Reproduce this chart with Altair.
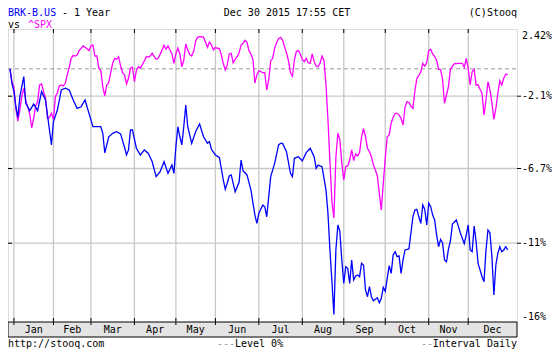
import altair as alt
import pandas as pd

# ---------------- data ----------------
# x = trading-day number since Dec 30 2014, y = % change vs first day
brk_day = [0, 1, 2, 3, 4, 5, 6, 7, 8, 10, 12, 14, 16, 18, 20, 21, 22, 24, 26, 28, 30, 32, 34, 36, 38, 40,
           42, 44, 46, 47, 48, 50, 52, 54, 56, 58, 59, 60, 61, 62, 64, 66, 68, 70, 72, 74, 76, 78, 80,
           82, 83, 84, 85, 86, 87, 88, 89, 90, 92, 94, 96, 98, 100, 101, 102, 104, 106, 108, 109, 110,
           111, 112, 114, 116, 117, 118, 120, 122, 124, 125, 126, 128, 129, 130, 132, 134, 136, 137,
           138, 140, 142, 143, 144, 146, 148, 150, 152, 154, 155, 156, 158, 160, 161, 162, 163, 164,
           165, 166, 167, 168, 169, 170, 171, 172, 173, 174, 175, 176, 177, 178, 179, 180, 181, 182,
           183, 184, 186, 187, 188, 189, 190, 191, 192, 193, 194, 195, 196, 197, 198, 199, 200, 202,
           204, 205, 206, 207, 208, 209, 210, 211, 212, 213, 214, 215, 216, 217, 218, 219, 220, 221,
           222, 223, 224, 226, 228, 230, 231, 232, 233, 234, 235, 236, 237, 238, 239, 240, 241, 242,
           243, 244, 245, 246, 247, 248, 249, 250, 251, 252]
brk_pct = [0.00, -1.11, -1.75, -2.77, -3.45, -2.13, -1.37, -0.60, -2.55, -3.02, -2.60, -3.02, -1.75,
           -2.34, -4.25, -5.20, -3.72, -2.98, -1.62, -1.49, -1.62, -2.34, -2.87, -2.77, -2.34, -3.19,
           -4.04, -4.04, -4.04, -4.46, -5.71, -4.68, -4.46, -4.36, -4.50, -5.35, -5.84, -5.52, -4.25,
           -4.25, -5.41, -5.84, -5.52, -5.73, -6.27, -7.17, -6.88, -6.27, -6.98,
           -6.48, -6.98, -5.31, -4.04, -4.68, -5.20, -4.04, -2.66, -4.04, -5.10, -4.36, -3.87, -4.68,
           -5.10, -4.99, -5.48, -5.84, -5.99, -7.36, -7.90, -7.55,
           -7.13, -7.07, -8.04, -7.49, -6.16, -6.83, -7.07, -7.94, -9.38, -9.86, -9.28, -8.80, -8.90,
           -9.48, -7.17, -6.37, -5.20, -5.10,
           -5.10, -5.63, -6.98, -7.17, -6.05, -5.95, -6.22, -5.69, -5.41, -5.95, -6.69, -6.48, -6.58,
           -7.94, -9.30, -11.46, -13.62, -15.85,
           -11.46, -9.95, -10.30, -12.14, -13.73, -12.60, -12.71, -13.73, -12.14, -13.50, -13.23,
           -13.16, -13.28, -12.37, -12.48, -14.18, -14.64, -13.96,
           -14.64, -14.91, -14.71, -15.05, -14.75, -14.00, -14.27, -13.39, -12.53, -13.05, -11.80,
           -11.58, -11.92, -11.87, -13.05, -12.14, -11.46, -11.39,
           -9.48, -9.09, -9.05, -9.48, -9.86, -8.80, -9.05, -9.95, -8.70, -8.90, -9.38, -9.66, -10.53,
           -11.24, -10.78, -10.97, -12.14, -12.26,
           -11.41, -10.86, -9.90, -9.66, -10.40, -11.03, -10.53, -9.95, -11.46, -11.58, -10.01, -10.92,
           -12.37, -12.82, -13.28, -13.62, -11.46, -10.24,
           -10.40, -11.92, -14.52, -12.48, -11.69, -11.24, -11.58, -11.46, -11.24, -11.46]

spx_pct = [0.00, -0.99, -1.42, -2.93, -3.68, -2.98, -2.08, -1.49, -2.39, -2.77,
           -3.23, -4.12, -3.51, -2.72, -2.45, -1.24, -1.16, -1.75, -2.23, -3.51,
           -3.44, -3.19, -3.57, -2.13, -1.83, -1.32, -1.24, -1.32, -1.11, -0.47,
           0.11, 0.76, 0.98, 0.93, 1.00, 1.32, 1.49, 1.66, 1.56, 1.46,
           1.32, 1.66, 1.73, 0.93, 0.93, 0.04, -0.15, -1.37, -2.08, -1.24,
           -1.06, -0.30, 0.40, 0.76, 0.69, 0.88, 0.20, -0.30, -0.47, -1.16,
           -0.73, 0.04, 0.11, -0.99, -0.15, 0.15, 0.04, 0.30, 0.57, 0.88,
           0.86, 0.93, 1.13, 0.88, 0.69, 0.76, 1.05, 1.37, 1.71, 1.42,
           1.66, 1.37, 1.08, 0.40, 1.08, 1.51, 1.08, 0.15, 0.64, 1.80,
           1.37, 1.03, 0.93, 1.27, 2.02, 2.29, 2.33, 2.33, 2.29, 1.95,
           1.56, 1.95, 1.73, 1.37, 1.56, 1.49, 1.49, 1.00, 0.40, -0.09,
           0.28, 1.08, 1.13, 0.44, 0.69, 0.88, 1.17, 1.73, 1.85, 2.07,
           1.93, 1.32, 1.08, 0.69, -1.09, -0.47, -0.15, -0.22, -0.30, -0.30,
           -1.62, -0.86, 0.59, 0.76, 1.49, 1.90, 2.19, 2.29, 2.09, 1.61,
           1.17, 0.59, -0.30, -0.55, 0.64, 1.27, 1.32, 1.08, 0.69, 0.52,
           0.76, 0.44, 0.40, 1.08, 0.52, 0.20, 0.15, 0.40, 0.93, 0.59,
           -1.24, -3.61, -6.30, -8.60, -9.55, -6.00, -4.46, -4.84, -6.37, -7.36,
           -6.58, -6.54, -6.16, -5.52, -6.20, -5.78, -5.90, -5.69, -4.68, -4.17,
           -4.68, -5.41, -5.63, -5.95, -6.48, -6.79, -7.13, -8.13, -9.09, -7.55,
           -6.05, -4.68, -4.57, -3.82, -3.44, -3.19, -3.19, -3.30, -3.51, -3.93,
           -2.81, -2.45, -2.51, -2.72, -2.87, -1.70, -0.73, -0.53, -0.22, 0.40,
           0.20, 0.44, 1.32, 1.42, 1.08, 0.88, 0.64, -0.04, -0.04, -0.80,
           -2.55, -2.01, -1.37, -0.04, 0.20, 0.37, 0.37, 0.40, 0.40, 0.40,
           0.11, 0.76, 0.04, -1.24, -0.22, -0.04, -1.24, -1.24, -1.57, -1.88,
           -3.30, -2.34, -0.99, -1.62, -2.51, -3.57, -2.87, -1.88, -0.91, -1.24,
           -0.73, -0.40, -0.47]
spx_day = list(range(len(spx_pct)))

month_names = ["Jan", "Feb", "Mar", "Apr", "May", "Jun", "Jul", "Aug", "Sep", "Oct", "Nov", "Dec"]
month_first_day = [2, 22, 41, 63, 84, 104, 126, 148, 169, 190, 212, 232]
axis_end_day = 256.7

grid_pct = [-2.1, -6.7, -11]
edge_pct = [2.42, -16]
level_pct = [0]

# ---------------- layout / style ----------------
W, H = 509, 293
FONT = "DejaVu Sans Mono"
FS = 10
BLUE, MAGENTA = "#0000ff", "#ff00ff"
GRID = "#c8c8c8"

xs = alt.Scale(domain=[-1, axis_end_day], zero=False, nice=False)
ys = alt.Scale(domain=[2.42, 0, -2.1, -6.7, -11, -16],
               range=[6.5, 39.8, 67.2, 139.5, 214.2, 287.7], zero=False, nice=False)

brk = pd.DataFrame({"day": brk_day, "pct": brk_pct})
spx = pd.DataFrame({"day": spx_day, "pct": spx_pct})
nxt = month_first_day[1:] + [axis_end_day]
months = pd.DataFrame({"name": month_names, "start": month_first_day,
                       "mid": [(a + b) / 2 for a, b in zip(month_first_day, nxt)]})
grid = pd.DataFrame({"pct": grid_pct, "t": [f"{v:g}%" for v in grid_pct]})
edges = pd.DataFrame({"pct": edge_pct, "t": [f"{v:g}%" for v in edge_pct]})
level = pd.DataFrame({"pct": level_pct})
one = pd.DataFrame({"k": [0]})


def X_(f):
    return alt.X(f, type="quantitative", scale=xs, axis=None)


def Y_(f):
    return alt.Y(f, type="quantitative", scale=ys, axis=None)


band = alt.Chart(one).mark_rect(fill="#e4e4e4", stroke="black", strokeWidth=1).encode(
    x=alt.value(0), x2=alt.value(W), y=alt.value(H), y2=alt.value(H + 15))

vgrid = alt.Chart(months).mark_rule(color=GRID, strokeWidth=1.3).encode(
    x=X_("start"), y=alt.value(0), y2=alt.value(H))

hgrid = alt.Chart(grid).mark_rule(color=GRID, strokeWidth=1.3).encode(
    x=alt.value(0), x2=alt.value(W), y=Y_("pct"))

left_ticks = alt.Chart(grid).mark_rule(color="black", strokeWidth=1).encode(
    x=alt.value(0), x2=alt.value(4), y=Y_("pct"))
right_ticks = alt.Chart(grid).mark_rule(color="black", strokeWidth=1).encode(
    x=alt.value(W), x2=alt.value(W + 4), y=Y_("pct"))

top_ticks = alt.Chart(months).mark_rule(color="black", strokeWidth=1).encode(
    x=X_("start"), y=alt.value(0), y2=alt.value(4))
bot_ticks = alt.Chart(months).mark_rule(color="black", strokeWidth=1).encode(
    x=X_("start"), y=alt.value(H - 4), y2=alt.value(H + 3))

zero_line = alt.Chart(level).mark_rule(color="#999999", strokeWidth=1, strokeDash=[4, 3]).encode(
    x=alt.value(0), x2=alt.value(W), y=Y_("pct"))

spx_line = alt.Chart(spx).mark_line(color=MAGENTA, strokeWidth=1.3).encode(
    x=X_("day"), y=Y_("pct"))
brk_line = alt.Chart(brk).mark_line(color=BLUE, strokeWidth=1.3).encode(
    x=X_("day"), y=Y_("pct"))

month_text = alt.Chart(months).mark_text(font=FONT, fontSize=FS, color="black",
                                         baseline="middle").encode(
    x=X_("mid"), y=alt.value(H + 8), text="name:N")

grid_labels = alt.Chart(grid).mark_text(font=FONT, fontSize=FS, color="black", align="left",
                                        baseline="middle").encode(
    x=alt.value(W + 5), y=Y_("pct"), text="t:N")
edge_labels = alt.Chart(edges).mark_text(font=FONT, fontSize=FS, color="black", align="left",
                                         baseline="middle").encode(
    x=alt.value(W + 5), y=Y_("pct"), text="t:N")


def label(text, x, y, color="black", align="left"):
    return alt.Chart(pd.DataFrame({"t": [text]})).mark_text(
        font=FONT, fontSize=FS, color=color, align=align, baseline="middle").encode(
        x=alt.value(x), y=alt.value(y), text="t:N")


L1, L2, LF = -16, -4.5, 315
texts = [
    label("BRK-B.US", 0, L1, BLUE),
    label("- 1 Year", 54, L1),
    label("Dec 30 2015 17:55 CET", 279, L1, align="center"),
    label("(C)Stooq", W, L1, align="right"),
    label("vs", 0, L2),
    label("^SPX", 20, L2, MAGENTA),
    label("http://stooq.com", 0, LF),
    label("---", 209, LF, "#999999"),
    label("Level 0%", 227, LF),
    label("--", 413, LF, "#999999"),
    label("Interval Daily", W, LF, align="right"),
]

chart = alt.layer(
    band, vgrid, hgrid, zero_line, left_ticks, right_ticks, top_ticks, bot_ticks,
    spx_line, brk_line, month_text, grid_labels, edge_labels, *texts
).properties(
    width=W, height=H,
    padding={"left": 0, "top": 21, "right": 35, "bottom": 28},
    autosize=alt.AutoSizeParams(type="none"),
).configure_view(stroke="black", strokeWidth=1).configure(background="white")

chart.save("out.html", embed_options={"renderer": "svg", "actions": False})
